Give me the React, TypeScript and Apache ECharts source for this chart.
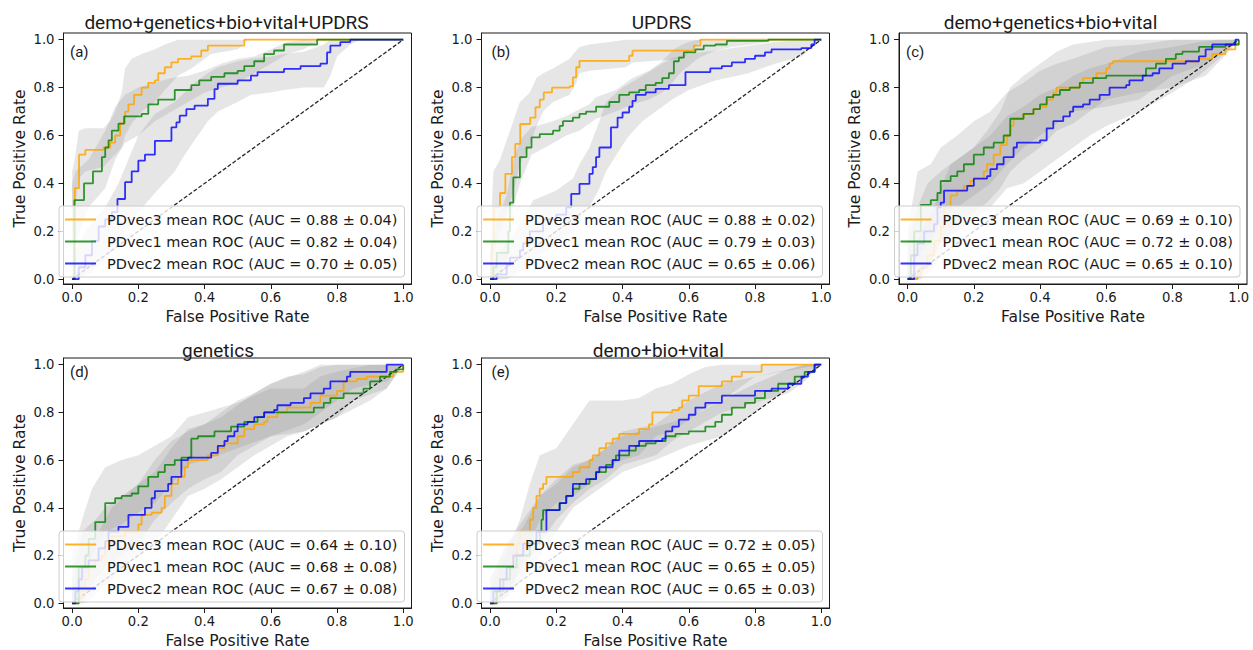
import React, { useEffect, useRef } from 'react';
import * as echarts from 'echarts';

// ---------------- DATA ----------------
const TITLES = ['demo+genetics+bio+vital+UPDRS', 'UPDRS', 'demo+genetics+bio+vital', 'genetics', 'demo+bio+vital'];
const PANEL_TAGS = ['(a)', '(b)', '(c)', '(d)', '(e)'];
const MODELS = ['PDvec3', 'PDvec1', 'PDvec2'];
const AUC_MEAN = [[0.88, 0.82, 0.70], [0.88, 0.79, 0.65], [0.69, 0.72, 0.65], [0.64, 0.68, 0.67], [0.72, 0.65, 0.65]];
const AUC_STD = [[0.04, 0.04, 0.05], [0.02, 0.03, 0.06], [0.10, 0.08, 0.10], [0.10, 0.08, 0.08], [0.05, 0.05, 0.03]];
const TICKS = [0, 0.2, 0.4, 0.6, 0.8, 1.0];
const CHANCE = [[0, 0], [1, 1]];

// mean ROC curves: [fpr, tpr] (tpr steps up to the value at fpr)
const rocA3 = [[0,0],[0.008,0.38],[0.021,0.52],[0.04,0.54],[0.095,0.55],[0.115,0.57],[0.13,0.6],[0.145,0.65],[0.16,0.7],[0.17,0.73],[0.187,0.77],[0.21,0.8],[0.23,0.82],[0.25,0.83],[0.26,0.86],[0.28,0.885],[0.3,0.905],[0.32,0.92],[0.36,0.93],[0.39,0.955],[0.41,0.975],[0.52,1.0],[1,1]];
const rocA1 = [[0,0],[0.007,0.33],[0.036,0.4],[0.063,0.45],[0.09,0.51],[0.1,0.55],[0.11,0.58],[0.12,0.62],[0.14,0.65],[0.157,0.68],[0.21,0.69],[0.23,0.73],[0.26,0.75],[0.31,0.79],[0.36,0.81],[0.384,0.83],[0.42,0.845],[0.46,0.86],[0.5,0.87],[0.52,0.89],[0.55,0.91],[0.58,0.94],[0.61,0.955],[0.64,0.98],[0.74,1.0],[1,1]];
const rocA2 = [[0,0],[0.02,0.05],[0.04,0.1],[0.06,0.16],[0.08,0.22],[0.1,0.25],[0.12,0.28],[0.137,0.335],[0.16,0.405],[0.18,0.45],[0.2,0.495],[0.22,0.52],[0.25,0.578],[0.3,0.634],[0.315,0.655],[0.325,0.683],[0.345,0.71],[0.37,0.725],[0.41,0.753],[0.43,0.794],[0.44,0.816],[0.5,0.83],[0.54,0.85],[0.56,0.865],[0.64,0.878],[0.69,0.89],[0.75,0.9],[0.77,0.947],[0.78,0.975],[0.81,0.99],[0.84,1.0],[1,1]];

const rocB3 = [[0,0],[0.005,0.15],[0.011,0.3],[0.03,0.36],[0.046,0.44],[0.066,0.51],[0.076,0.565],[0.091,0.648],[0.121,0.675],[0.137,0.718],[0.15,0.75],[0.162,0.78],[0.187,0.8],[0.24,0.805],[0.25,0.843],[0.26,0.885],[0.27,0.912],[0.42,0.933],[0.43,0.954],[0.615,0.975],[0.635,1.0],[1,1]];
const rocB1 = [[0,0],[0.01,0.05],[0.02,0.11],[0.055,0.2],[0.06,0.32],[0.07,0.425],[0.09,0.51],[0.11,0.55],[0.125,0.592],[0.15,0.606],[0.19,0.62],[0.21,0.64],[0.22,0.66],[0.25,0.675],[0.27,0.69],[0.29,0.7],[0.32,0.72],[0.36,0.74],[0.39,0.77],[0.42,0.78],[0.45,0.79],[0.47,0.81],[0.5,0.82],[0.52,0.84],[0.54,0.86],[0.555,0.91],[0.57,0.925],[0.585,0.947],[0.62,0.96],[0.645,0.975],[0.68,0.98],[0.715,0.995],[0.84,1.0],[1,1]];
const rocB2 = [[0,0],[0.02,0.02],[0.05,0.06],[0.06,0.09],[0.09,0.12],[0.1,0.15],[0.12,0.2],[0.16,0.25],[0.2,0.27],[0.23,0.3],[0.245,0.356],[0.27,0.398],[0.3,0.44],[0.31,0.468],[0.32,0.51],[0.33,0.55],[0.365,0.634],[0.385,0.675],[0.4,0.696],[0.42,0.72],[0.43,0.745],[0.44,0.77],[0.47,0.78],[0.5,0.795],[0.54,0.81],[0.59,0.865],[0.665,0.88],[0.7,0.89],[0.73,0.905],[0.77,0.92],[0.8,0.933],[0.83,0.947],[0.85,0.96],[0.94,0.965],[0.97,0.98],[0.98,1.0],[1,1]];

const rocC3 = [[0,0],[0.03,0.02],[0.04,0.05],[0.06,0.1],[0.08,0.16],[0.1,0.22],[0.11,0.3],[0.13,0.35],[0.15,0.37],[0.17,0.39],[0.19,0.41],[0.2,0.42],[0.23,0.45],[0.24,0.48],[0.26,0.52],[0.28,0.56],[0.3,0.6],[0.31,0.64],[0.32,0.67],[0.35,0.69],[0.38,0.71],[0.4,0.72],[0.42,0.75],[0.44,0.78],[0.45,0.8],[0.52,0.82],[0.53,0.84],[0.57,0.86],[0.6,0.88],[0.61,0.9],[0.62,0.91],[0.88,0.92],[0.92,0.94],[0.96,0.96],[0.99,0.98],[1,1]];
const rocC1 = [[0,0],[0.01,0.1],[0.02,0.2],[0.04,0.31],[0.07,0.33],[0.09,0.36],[0.1,0.41],[0.13,0.43],[0.15,0.45],[0.17,0.48],[0.2,0.52],[0.23,0.55],[0.26,0.57],[0.29,0.6],[0.31,0.67],[0.35,0.69],[0.38,0.71],[0.4,0.73],[0.42,0.76],[0.44,0.77],[0.46,0.79],[0.49,0.8],[0.52,0.82],[0.56,0.84],[0.6,0.85],[0.72,0.88],[0.75,0.9],[0.78,0.92],[0.81,0.94],[0.83,0.95],[0.88,0.97],[0.96,0.98],[1,1]];
const rocC2 = [[0,0],[0.02,0.1],[0.03,0.15],[0.05,0.2],[0.08,0.23],[0.09,0.3],[0.1,0.32],[0.11,0.37],[0.18,0.39],[0.2,0.42],[0.24,0.43],[0.25,0.46],[0.27,0.48],[0.29,0.51],[0.32,0.55],[0.33,0.57],[0.4,0.58],[0.42,0.63],[0.44,0.66],[0.47,0.68],[0.49,0.7],[0.5,0.72],[0.53,0.73],[0.55,0.75],[0.58,0.77],[0.61,0.8],[0.66,0.81],[0.67,0.83],[0.71,0.85],[0.74,0.86],[0.76,0.88],[0.8,0.9],[0.84,0.91],[0.88,0.93],[0.9,0.96],[0.92,0.98],[0.99,1.0],[1,1]];

const rocD3 = [[0,0],[0.02,0.02],[0.03,0.05],[0.04,0.1],[0.05,0.15],[0.07,0.18],[0.09,0.2],[0.1,0.25],[0.12,0.28],[0.16,0.3],[0.2,0.33],[0.21,0.37],[0.24,0.38],[0.27,0.4],[0.28,0.45],[0.3,0.5],[0.32,0.53],[0.34,0.57],[0.35,0.6],[0.41,0.62],[0.44,0.65],[0.46,0.67],[0.5,0.7],[0.52,0.73],[0.55,0.75],[0.58,0.76],[0.59,0.78],[0.62,0.8],[0.65,0.82],[0.72,0.84],[0.75,0.87],[0.8,0.89],[0.82,0.93],[0.86,0.94],[0.89,0.95],[0.97,0.97],[1,1]];
const rocD1 = [[0,0],[0.02,0.15],[0.04,0.2],[0.05,0.27],[0.07,0.34],[0.1,0.42],[0.13,0.44],[0.15,0.45],[0.18,0.46],[0.2,0.49],[0.23,0.53],[0.26,0.55],[0.28,0.58],[0.31,0.6],[0.33,0.61],[0.36,0.69],[0.38,0.7],[0.43,0.72],[0.48,0.74],[0.52,0.76],[0.56,0.78],[0.58,0.8],[0.73,0.82],[0.76,0.84],[0.78,0.86],[0.82,0.88],[0.88,0.9],[0.9,0.93],[0.93,0.95],[0.96,0.97],[0.98,0.98],[1,1]];
const rocD2 = [[0,0],[0.01,0.05],[0.02,0.1],[0.03,0.15],[0.05,0.18],[0.08,0.23],[0.1,0.26],[0.11,0.3],[0.14,0.32],[0.17,0.37],[0.22,0.4],[0.24,0.44],[0.25,0.47],[0.29,0.5],[0.3,0.53],[0.33,0.6],[0.35,0.61],[0.42,0.63],[0.44,0.66],[0.46,0.68],[0.47,0.7],[0.49,0.72],[0.5,0.75],[0.53,0.76],[0.55,0.78],[0.58,0.8],[0.61,0.81],[0.62,0.83],[0.66,0.84],[0.7,0.86],[0.72,0.88],[0.76,0.9],[0.78,0.93],[0.83,0.95],[0.84,0.97],[0.95,1.0],[1,1]];

const rocE3 = [[0,0],[0.02,0.05],[0.03,0.1],[0.05,0.15],[0.07,0.2],[0.08,0.25],[0.09,0.3],[0.12,0.35],[0.13,0.4],[0.14,0.45],[0.15,0.48],[0.16,0.5],[0.17,0.53],[0.25,0.55],[0.27,0.57],[0.3,0.6],[0.31,0.62],[0.33,0.65],[0.35,0.67],[0.37,0.69],[0.39,0.71],[0.45,0.73],[0.48,0.75],[0.49,0.8],[0.55,0.81],[0.57,0.82],[0.58,0.85],[0.6,0.87],[0.63,0.91],[0.7,0.93],[0.73,0.95],[0.76,0.97],[0.82,1.0],[1,1]];
const rocE1 = [[0,0],[0.02,0.05],[0.04,0.1],[0.06,0.15],[0.08,0.2],[0.12,0.25],[0.15,0.3],[0.155,0.35],[0.16,0.39],[0.21,0.42],[0.23,0.45],[0.25,0.48],[0.27,0.5],[0.3,0.52],[0.32,0.55],[0.35,0.58],[0.37,0.6],[0.38,0.62],[0.42,0.64],[0.44,0.66],[0.47,0.67],[0.5,0.68],[0.53,0.7],[0.56,0.71],[0.6,0.72],[0.65,0.74],[0.68,0.76],[0.7,0.79],[0.73,0.82],[0.77,0.84],[0.8,0.86],[0.83,0.89],[0.87,0.92],[0.92,0.95],[0.95,0.97],[0.98,1.0],[1,1]];
const rocE2 = [[0,0],[0.01,0.05],[0.03,0.1],[0.05,0.15],[0.07,0.2],[0.1,0.25],[0.14,0.3],[0.17,0.39],[0.21,0.42],[0.23,0.45],[0.25,0.5],[0.29,0.52],[0.32,0.55],[0.33,0.57],[0.37,0.6],[0.39,0.64],[0.42,0.66],[0.45,0.68],[0.52,0.69],[0.53,0.72],[0.55,0.74],[0.57,0.77],[0.6,0.79],[0.62,0.82],[0.65,0.84],[0.7,0.87],[0.8,0.89],[0.85,0.9],[0.9,0.92],[0.94,0.95],[0.96,0.97],[0.98,1.0],[1,1]];

// +/- 1 std bands: [fpr, lower tpr, upper tpr]
const bandA3 = [[0,0.15,0.45],[0.008,0.28,0.5],[0.02,0.42,0.62],[0.04,0.45,0.63],[0.095,0.47,0.63],[0.115,0.5,0.66],[0.13,0.52,0.7],[0.15,0.55,0.78],[0.16,0.6,0.88],[0.18,0.65,0.92],[0.21,0.7,0.94],[0.25,0.74,0.96],[0.28,0.79,0.98],[0.32,0.85,1.0],[0.36,0.88,1.0],[0.39,0.91,1.0],[0.42,0.94,1.0],[0.5,0.96,1.0],[0.53,1,1],[1,1,1]];
const bandA1 = [[0,0.1,0.4],[0.01,0.15,0.45],[0.05,0.3,0.5],[0.1,0.38,0.62],[0.13,0.5,0.72],[0.16,0.57,0.77],[0.2,0.6,0.8],[0.25,0.66,0.82],[0.3,0.7,0.84],[0.35,0.74,0.85],[0.4,0.78,0.87],[0.45,0.8,0.9],[0.5,0.82,0.92],[0.55,0.86,0.93],[0.6,0.9,0.96],[0.65,0.94,0.99],[0.7,0.96,1.0],[0.75,1,1],[1,1,1]];
const bandA2 = [[0,0,0.1],[0.05,0.02,0.22],[0.1,0.08,0.3],[0.14,0.15,0.4],[0.17,0.22,0.5],[0.2,0.28,0.6],[0.25,0.36,0.69],[0.31,0.45,0.74],[0.34,0.52,0.78],[0.37,0.58,0.82],[0.41,0.66,0.86],[0.44,0.7,0.885],[0.5,0.74,0.91],[0.54,0.77,0.92],[0.6,0.78,0.93],[0.64,0.79,0.94],[0.7,0.8,0.95],[0.76,0.8,0.98],[0.78,0.85,1.0],[0.8,0.93,1.0],[0.84,0.98,1],[0.87,1,1],[1,1,1]];

const bandB3 = [[0,0,0.15],[0.01,0.1,0.45],[0.03,0.2,0.5],[0.05,0.28,0.58],[0.07,0.36,0.66],[0.09,0.48,0.74],[0.12,0.56,0.78],[0.14,0.64,0.84],[0.16,0.7,0.86],[0.19,0.74,0.88],[0.24,0.77,0.92],[0.26,0.82,0.955],[0.27,0.86,0.97],[0.3,0.87,0.98],[0.41,0.885,1.0],[0.43,0.905,1.0],[0.58,0.92,1.0],[0.61,0.955,1.0],[0.64,1,1],[1,1,1]];
const bandB1 = [[0,0,0.1],[0.02,0,0.25],[0.05,0.05,0.35],[0.07,0.3,0.49],[0.09,0.4,0.58],[0.125,0.52,0.635],[0.18,0.56,0.655],[0.23,0.6,0.68],[0.27,0.62,0.71],[0.3,0.65,0.73],[0.32,0.67,0.76],[0.38,0.7,0.79],[0.43,0.73,0.84],[0.48,0.75,0.87],[0.52,0.78,0.91],[0.55,0.82,0.955],[0.58,0.87,0.98],[0.6,0.89,0.99],[0.63,0.925,1.0],[0.68,0.955,1.0],[0.73,0.97,1.0],[0.84,0.99,1.0],[0.86,1,1],[1,1,1]];
const bandB2 = [[0,0,0.05],[0.05,0,0.15],[0.1,0.04,0.25],[0.13,0.08,0.33],[0.2,0.15,0.37],[0.25,0.2,0.42],[0.27,0.24,0.48],[0.3,0.3,0.55],[0.33,0.38,0.66],[0.35,0.45,0.74],[0.4,0.56,0.8],[0.42,0.6,0.816],[0.46,0.66,0.85],[0.52,0.72,0.9],[0.55,0.75,0.925],[0.6,0.79,0.94],[0.68,0.83,0.955],[0.78,0.86,0.975],[0.86,0.9,0.99],[0.94,0.93,1.0],[0.98,0.98,1],[1,1,1]];

const bandC3 = [[0,0,0.05],[0.04,0,0.2],[0.08,0.05,0.3],[0.1,0.1,0.38],[0.13,0.2,0.48],[0.17,0.25,0.52],[0.2,0.28,0.55],[0.24,0.32,0.62],[0.28,0.38,0.7],[0.31,0.45,0.8],[0.35,0.5,0.85],[0.4,0.55,0.9],[0.45,0.62,0.95],[0.5,0.65,0.98],[0.55,0.7,0.99],[0.6,0.75,1.0],[0.7,0.78,1.0],[0.8,0.8,1.0],[0.9,0.85,1.0],[0.97,0.95,1.0],[1,1,1]];
const bandC1 = [[0,0,0.2],[0.03,0.1,0.45],[0.07,0.15,0.48],[0.1,0.25,0.55],[0.15,0.3,0.6],[0.2,0.35,0.66],[0.25,0.4,0.7],[0.3,0.48,0.78],[0.35,0.55,0.82],[0.4,0.6,0.87],[0.45,0.65,0.9],[0.5,0.7,0.92],[0.6,0.72,0.97],[0.7,0.75,0.98],[0.8,0.85,1.0],[0.9,0.9,1.0],[1,1,1]];
const bandC2 = [[0,0,0.15],[0.03,0,0.3],[0.06,0.05,0.4],[0.1,0.15,0.45],[0.15,0.2,0.5],[0.2,0.25,0.55],[0.25,0.3,0.6],[0.3,0.38,0.68],[0.35,0.4,0.72],[0.4,0.45,0.77],[0.45,0.5,0.8],[0.5,0.55,0.85],[0.55,0.6,0.88],[0.6,0.64,0.9],[0.7,0.7,0.95],[0.8,0.78,0.97],[0.88,0.85,0.99],[0.94,0.92,1.0],[1,1,1]];

const bandD3 = [[0,0,0.05],[0.04,0,0.2],[0.08,0.05,0.3],[0.12,0.1,0.4],[0.16,0.15,0.45],[0.2,0.2,0.5],[0.25,0.25,0.55],[0.3,0.35,0.65],[0.35,0.45,0.73],[0.4,0.48,0.75],[0.45,0.52,0.78],[0.5,0.57,0.83],[0.55,0.62,0.88],[0.6,0.66,0.92],[0.65,0.7,0.95],[0.7,0.72,0.96],[0.75,0.75,0.99],[0.8,0.78,1.0],[0.85,0.85,1.0],[0.95,0.9,1.0],[1,1,1]];
const bandD1 = [[0,0,0.2],[0.03,0.05,0.35],[0.06,0.2,0.48],[0.1,0.3,0.57],[0.15,0.33,0.6],[0.2,0.38,0.62],[0.25,0.42,0.66],[0.3,0.5,0.7],[0.35,0.58,0.78],[0.4,0.6,0.8],[0.5,0.65,0.84],[0.6,0.7,0.9],[0.7,0.72,0.9],[0.75,0.75,0.95],[0.8,0.78,0.97],[0.9,0.85,1.0],[0.95,0.9,1.0],[1,1,1]];
const bandD2 = [[0,0,0.1],[0.03,0,0.3],[0.07,0.1,0.35],[0.1,0.15,0.4],[0.15,0.2,0.45],[0.2,0.25,0.5],[0.25,0.35,0.6],[0.3,0.42,0.68],[0.35,0.48,0.72],[0.4,0.52,0.75],[0.45,0.55,0.8],[0.5,0.62,0.85],[0.55,0.66,0.88],[0.6,0.7,0.92],[0.7,0.75,0.97],[0.75,0.8,1.0],[0.85,0.9,1.0],[0.95,0.93,1.0],[0.98,0.97,1.0],[1,1,1]];

const bandE3 = [[0,0,0.05],[0.03,0,0.15],[0.06,0.05,0.25],[0.09,0.15,0.35],[0.12,0.25,0.5],[0.15,0.35,0.62],[0.2,0.42,0.65],[0.25,0.45,0.75],[0.3,0.5,0.85],[0.35,0.57,0.85],[0.4,0.6,0.85],[0.45,0.62,0.86],[0.5,0.7,0.9],[0.55,0.72,0.92],[0.6,0.77,0.96],[0.65,0.82,0.99],[0.7,0.85,1.0],[0.75,0.9,1.0],[0.8,0.95,1.0],[1,1,1]];
const bandE1 = [[0,0,0.1],[0.05,0.02,0.25],[0.1,0.1,0.32],[0.15,0.2,0.45],[0.2,0.3,0.52],[0.25,0.4,0.58],[0.3,0.45,0.6],[0.35,0.5,0.65],[0.4,0.55,0.7],[0.5,0.6,0.74],[0.6,0.66,0.78],[0.7,0.7,0.85],[0.8,0.8,0.92],[0.9,0.9,0.98],[0.95,0.94,1.0],[1,1,1]];
const bandE2 = [[0,0,0.1],[0.05,0.05,0.25],[0.1,0.15,0.35],[0.15,0.25,0.45],[0.2,0.35,0.5],[0.25,0.42,0.57],[0.3,0.48,0.6],[0.35,0.52,0.65],[0.4,0.58,0.72],[0.5,0.62,0.75],[0.55,0.68,0.8],[0.6,0.72,0.85],[0.7,0.8,0.92],[0.8,0.84,0.95],[0.9,0.88,0.98],[0.95,0.93,1.0],[1,1,1]];

const ROC = [[rocA3, rocA1, rocA2], [rocB3, rocB1, rocB2], [rocC3, rocC1, rocC2], [rocD3, rocD1, rocD2], [rocE3, rocE1, rocE2]];
const BANDS = [[bandA3, bandA1, bandA2], [bandB3, bandB1, bandB2], [bandC3, bandC1, bandC2], [bandD3, bandD1, bandD2], [bandE3, bandE1, bandE2]];

// ---------------- LAYOUT / STYLE ----------------
const W = 1253;
const H = 650;
const PANEL_POS = [[63.5, 33], [481.5, 33], [899, 33], [63.5, 358], [481.5, 358]];
const PLOT_W = 348;
const PLOT_H = 251;
const X_MIN = -0.026;
const X_MAX = 1.025;
const Y_MIN = -0.02;
const Y_MAX = 1.028;
const TITLE_POS = [[226.5, 22], [661.5, 22], [1050.5, 22], [218, 350], [658.3, 350]];
const TAG_POS = [[70, 52], [491.5, 52], [906, 52], [70, 372], [491.5, 372]];
const LINE_COLORS = ['rgba(255,165,0,0.85)', 'rgba(0,128,0,0.8)', 'rgba(0,0,255,0.8)'];
const BAND_FILL = 'rgba(128,128,128,0.2)';
const FONT = "'DejaVu Sans', sans-serif";
const TITLE_FONT = "Roboto, 'Liberation Sans', sans-serif";
const INK = '#1a1a1a';

function fmt(v: number) {
  return v.toFixed(2);
}

export default function App() {
  const ref = useRef<HTMLDivElement>(null);

  useEffect(() => {
    if (!ref.current) return;
    const chart = echarts.init(ref.current, undefined, { renderer: 'svg' });

    const grid: any[] = [];
    const xAxis: any[] = [];
    const yAxis: any[] = [];
    const series: any[] = [];
    const legend: any[] = [];
    const graphic: any[] = [];

    PANEL_POS.forEach((pos, i) => {
      const [left, top] = pos;
      grid.push({
        left, top, width: PLOT_W, height: PLOT_H,
        show: true, borderColor: INK, borderWidth: 1, backgroundColor: 'transparent',
      });
      const axisCommon = {
        type: 'value',
        gridIndex: i,
        nameLocation: 'middle',
        nameTextStyle: { fontFamily: FONT, fontSize: 15.5, color: INK },
        axisLine: { show: true, onZero: false, lineStyle: { color: INK, width: 1 } },
        axisTick: { show: true, length: 5, customValues: TICKS, lineStyle: { color: INK, width: 1 } },
        splitLine: { show: false },
      };
      xAxis.push({
        ...axisCommon,
        min: X_MIN, max: X_MAX,
        name: 'False Positive Rate', nameGap: 25,
        axisLabel: { customValues: TICKS, formatter: (v: number) => v.toFixed(1), margin: 7, fontFamily: FONT, fontSize: 13.2, color: INK },
      });
      yAxis.push({
        ...axisCommon,
        min: Y_MIN, max: Y_MAX,
        name: 'True Positive Rate', nameGap: 36,
        axisLabel: { customValues: TICKS, formatter: (v: number) => v.toFixed(1), margin: 9, fontFamily: FONT, fontSize: 13.2, color: INK },
      });

      series.push({
        type: 'line', xAxisIndex: i, yAxisIndex: i, data: CHANCE, symbol: 'none', silent: true,
        lineStyle: { color: 'rgba(0,0,0,0.85)', width: 1.3, type: [4, 2] },
      });

      const names: string[] = [];
      MODELS.forEach((m, k) => {
        const name = `${m} mean ROC (AUC = ${fmt(AUC_MEAN[i][k])} ± ${fmt(AUC_STD[i][k])})`;
        names.push(name);
        series.push({
          type: 'line', name, xAxisIndex: i, yAxisIndex: i, data: ROC[i][k],
          step: 'end', symbol: 'none', silent: true,
          lineStyle: { color: LINE_COLORS[k], width: 1.8 },
          itemStyle: { color: LINE_COLORS[k] },
        });
        const band = BANDS[i][k];
        series.push({
          type: 'custom', xAxisIndex: i, yAxisIndex: i, data: [[0, 0]], encode: { x: 0, y: 1 },
          silent: true,
          renderItem: (_p: any, api: any) => {
            const up = band.map((b) => api.coord([b[0], b[2]]));
            const lo = band.slice().reverse().map((b) => api.coord([b[0], b[1]]));
            return { type: 'polygon', shape: { points: up.concat(lo) }, style: { fill: BAND_FILL } };
          },
        });
      });

      legend.push({
        show: true, orient: 'vertical', data: names, selectedMode: false,
        right: W - (left + PLOT_W - 7), bottom: H - (top + PLOT_H - 7),
        icon: 'rect', itemWidth: 31, itemHeight: 2, itemGap: 7,
        itemStyle: { borderWidth: 0 },
        padding: [6, 7, 6, 6],
        backgroundColor: 'rgba(255,255,255,0.8)', borderColor: '#cccccc', borderWidth: 1, borderRadius: 3,
        textStyle: { fontFamily: FONT, fontSize: 14.5, color: INK, padding: [0, 0, 0, 6] },
      });

      graphic.push({
        type: 'text', x: TITLE_POS[i][0], y: TITLE_POS[i][1], z: 100,
        style: { text: TITLES[i], font: `19px ${TITLE_FONT}`, fill: INK, align: 'center', verticalAlign: 'middle', textAlign: 'center', textVerticalAlign: 'middle' },
      });
      graphic.push({
        type: 'text', x: TAG_POS[i][0], y: TAG_POS[i][1], z: 100,
        style: { text: PANEL_TAGS[i], font: `15px ${TITLE_FONT}`, fill: INK, align: 'left', verticalAlign: 'middle', textAlign: 'left', textVerticalAlign: 'middle' },
      });
    });

    chart.setOption({
      animation: false,
      backgroundColor: '#ffffff',
      grid, xAxis, yAxis, series, legend, graphic,
    });

    return () => chart.dispose();
  }, []);

  return <div ref={ref} style={{ position: 'absolute', left: 0, top: 0, width: W, height: H }} />;
}
